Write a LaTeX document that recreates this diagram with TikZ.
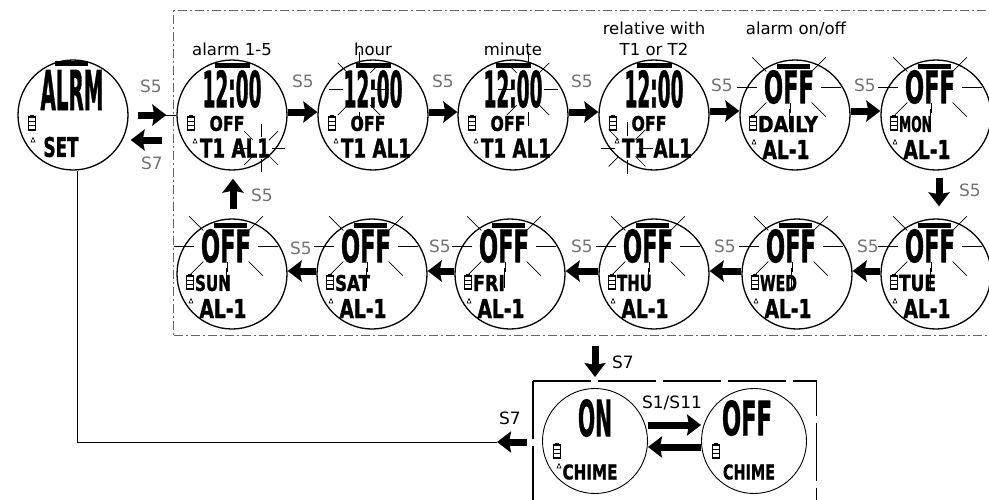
\documentclass[tikz,border=0pt]{standalone}
\usepackage{fontspec}
\usepackage{graphicx}
\setmainfont{DejaVu Sans}
\newfontfamily\lcdfont{DejaVu Sans}[BoldFeatures={FakeBold=1.5}]
\usetikzlibrary{arrows.meta,calc}

\newcommand\lcdtext[3]{\resizebox{#1pt}{#2pt}{\lcdfont\bfseries #3}}
\newcommand\batt[2]{%
  \draw[line width=1.1pt] (#1-3.5,#2-6) rectangle (#1+3.5,#2+7);
  \fill (#1-2,#2-8.5) rectangle (#1+2,#2-6);
  \draw[line width=1.1pt] (#1-3.5,#2-1.5) -- (#1+3.5,#2-1.5) (#1-3.5,#2+2.5) -- (#1+3.5,#2+2.5);}
\newcommand\bellicon[2]{\draw[line width=0.6pt] (#1,#2-2.5) -- (#1+2,#2+2) -- (#1-2,#2+2) -- cycle;}
\newcommand\flashrays[5]{\foreach \ang in {0,45,...,315}{\draw[ray,shift={#1}] (\ang:#2 and #3) -- (\ang:#4 and #5);}}

\newcommand\timeface[2]{%
  \begin{scope}[shift={(#1.center)}]
    \fill (-17,-52) rectangle (18,-47);
    \node[lcd] at (0,-26) {\lcdtext{59}{37}{12:00}};
    \batt{-41}{8}
    \node[lcd] at (-5,8.5) {\lcdtext{35}{15}{OFF}};
    \bellicon{-37}{26}
    \node[lcd] at (3,33) {\lcdtext{70}{19}{T1 AL1}};
    #2
  \end{scope}}

\newcommand\dayface[3]{%
  \begin{scope}[shift={(#1.center)}]
    \fill (-18,-51) rectangle (15,-46);
    \node[lcd] at (-6,-28) {\lcdtext{50}{33}{OFF}};
    \batt{-42}{8}
    \node[lcd,anchor=west] at (-37,9) {\lcdtext{#3}{16}{#2}};
    \bellicon{-41}{27}
    \node[lcd] at (-9,34.5) {\lcdtext{47}{19}{AL-1}};
    \foreach \ang in {0,45,90,135,180,225,315}{\draw[ray,shift={(-6,-28)}] (\ang:32 and 22) -- (\ang:52 and 42);}
    \draw[ray] (-5,-12) -- (-5,-2);
  \end{scope}}

\begin{document}
\begin{tikzpicture}[x=1pt,y=-1pt,
  face/.style={circle,draw,line width=1.3pt,minimum size=110pt,inner sep=0pt},
  chface/.style={circle,draw,line width=0.9pt,minimum size=105pt,inner sep=0pt},
  lcd/.style={inner sep=0pt,outer sep=0pt},
  ray/.style={line width=0.7pt},
  blk/.style={line width=7pt,-{Stealth[length=14pt,width=21pt,inset=2pt]}},
  lbl/.style={font=\fontsize{16.5}{20}\selectfont},
  sgray/.style={font=\fontsize{17}{20}\selectfont,text=black!55},
  sblk/.style={font=\fontsize{17}{20}\selectfont},
  dashdot/.style={draw=black!60,line width=1pt,dash pattern=on 9pt off 3pt on 2pt off 3pt},
  chdash/.style={line width=1.2pt,dash pattern=on 58pt off 7pt}]
\useasboundingbox (0,0) rectangle (989,499);
\clip (0,0) rectangle (989,499);

% frames
\node[dashdot,anchor=north west,minimum width=830pt,minimum height=325pt,inner sep=0pt] (abox) at (173,10) {};
\node[anchor=north west,minimum width=283pt,minimum height=139pt,inner sep=0pt] (cbox) at (533,381) {};
\draw[chdash] (cbox.north west) -- (cbox.south west);
\draw[chdash] (cbox.north west) -- (cbox.north east) -- (cbox.south east);

% circles
\node[face] (alrm) at (73,115) {};
\node[face] (a1) at (232,115) {};
\node[face] (hr) at (373,115) {};
\node[face] (mn) at (513,115) {};
\node[face] (rel) at (654,115) {};
\node[face] (onoff) at (795,115) {};
\node[face] (mon) at (936,115) {};
\node[face] (sun) at (232,274) {};
\node[face] (sat) at (372,274) {};
\node[face] (fri) at (510,274) {};
\node[face] (thu) at (654,274) {};
\node[face] (wed) at (797,274) {};
\node[face] (tue) at (936,274) {};
\node[chface] (con) at (595,441) {};
\node[chface] (coff) at (754,441) {};

% ALRM face
\begin{scope}[shift={(alrm.center)}]
  \fill (-18,-54) rectangle (15,-49);
  \node[lcd] at (-1,-25) {\lcdtext{63}{40}{ALRM}};
  \batt{-41}{8}
  \bellicon{-40}{25}
  \node[lcd] at (-12,32) {\lcdtext{35}{20}{SET}};
\end{scope}

\timeface{a1}{\flashrays{(29,33)}{11}{11}{24}{24}}
\timeface{hr}{\flashrays{(-14,-26)}{16}{23}{30}{37}}
\timeface{mn}{\flashrays{(15,-26)}{16}{23}{30}{37}}
\timeface{rel}{\flashrays{(-27,33)}{12}{12}{26}{26}}

\dayface{onoff}{DAILY}{60}
\dayface{mon}{MON}{33}
\dayface{tue}{TUE}{37}
\dayface{wed}{WED}{37}
\dayface{thu}{THU}{35}
\dayface{fri}{FRI}{32}
\dayface{sat}{SAT}{35}
\dayface{sun}{SUN}{36}

% chime faces
\begin{scope}[shift={(con.center)}]
  \node[lcd] at (0,-23) {\lcdtext{34}{37}{ON}};
  \batt{-38}{10}
  \bellicon{-36}{25}
  \node[lcd] at (-5,31) {\lcdtext{55}{15}{CHIME}};
\end{scope}
\begin{scope}[shift={(coff.center)}]
  \node[lcd] at (-7,-23) {\lcdtext{50}{35}{OFF}};
  \batt{-38}{10}
  \node[lcd] at (-5,31) {\lcdtext{52}{15}{CHIME}};
\end{scope}

% captions
\node[lbl] (t1) at (232,49) {alarm 1-5};
\node[lbl] (t2) at (373,49) {hour};
\node[lbl] (t3) at (513,49) {minute};
\node[lbl] (t4) at (654,28) {relative with};
\node[lbl] (t5) at (654,49) {T1 or T2};
\node[lbl] (t6) at (796,29) {alarm on/off};

% arrows top row
\draw[blk] ($(alrm.east)+(9,0)$) -- ($(a1.west)+(-10,0)$);
\draw[line width=1pt] ($(a1.west)+(-12,0)$) -- (a1.west);
\draw[blk] ($(a1.west)+(-14,25)$) -- ($(alrm.east)+(2,25)$);
\draw[blk] ([yshift=3pt]a1.east) -- ([yshift=3pt]hr.west);
\draw[blk] ([yshift=3pt]hr.east) -- ([yshift=3pt]mn.west);
\draw[blk] ([yshift=3pt]mn.east) -- ([yshift=3pt]rel.west);
\draw[blk] ([yshift=4pt]rel.east) -- ([yshift=4pt]onoff.west);
\draw[blk] ([yshift=4pt]onoff.east) -- ([yshift=4pt]mon.west);
\draw[blk] ($(mon.south)+(3,7)$) -- ($(tue.north)+(3,-12)$);
% bottom row
\draw[blk] ([yshift=3pt]tue.west) -- ([yshift=3pt]wed.east);
\draw[blk] ([yshift=3pt]wed.west) -- ([yshift=3pt]thu.east);
\draw[blk] ([yshift=3pt]thu.west) -- ([yshift=3pt]fri.east);
\draw[blk] ([yshift=3pt]fri.west) -- ([yshift=3pt]sat.east);
\draw[blk] ([yshift=3pt]sat.west) -- ([yshift=3pt]sun.east);
\draw[blk] ($(sun.north)+(1,-9)$) -- ($(a1.south)+(1,8)$);
% to chime
\draw[blk] ($(abox.south -| con.center)+(0,10)$) -- ($(cbox.north -| con.center)+(0,-4)$);
\draw[blk] ([yshift=16pt]con.east) -- ([yshift=16pt]coff.west);
\draw[blk] ([yshift=-6pt]coff.west) -- ([yshift=-6pt]con.east);
\coordinate (s7t) at ($(cbox.north west)+(-36,61)$);
\draw[blk] ($(cbox.north west)+(-6,61)$) -- (s7t);
\draw[line width=1pt] (s7t) -| ($(alrm.south)+(4,0)$);

% key labels
\node[sgray] (k1) at (151,86) {S5};
\node[sgray] (k2) at (152,163) {S7};
\node[sgray] (k3) at (303,81) {S5};
\node[sgray] (k4) at (443,81) {S5};
\node[sgray] (k5) at (582,81) {S5};
\node[sgray] (k6) at (722,85) {S5};
\node[sgray] (k7) at (865,85) {S5};
\node[sgray] (k8) at (970,190) {S5};
\node[sgray] (k9) at (868,246) {S5};
\node[sgray] (k10) at (725,246) {S5};
\node[sgray] (k11) at (582,246) {S5};
\node[sgray] (k12) at (440,246) {S5};
\node[sgray] (k13) at (301,248) {S5};
\node[sgray] (k14) at (262,195) {S5};
\node[sblk] (k15) at (623,362) {S7};
\node[sblk] (k16) at (672,403) {S1/S11};
\node[sblk] (k17) at (510,418) {S7};
\end{tikzpicture}
\end{document}
